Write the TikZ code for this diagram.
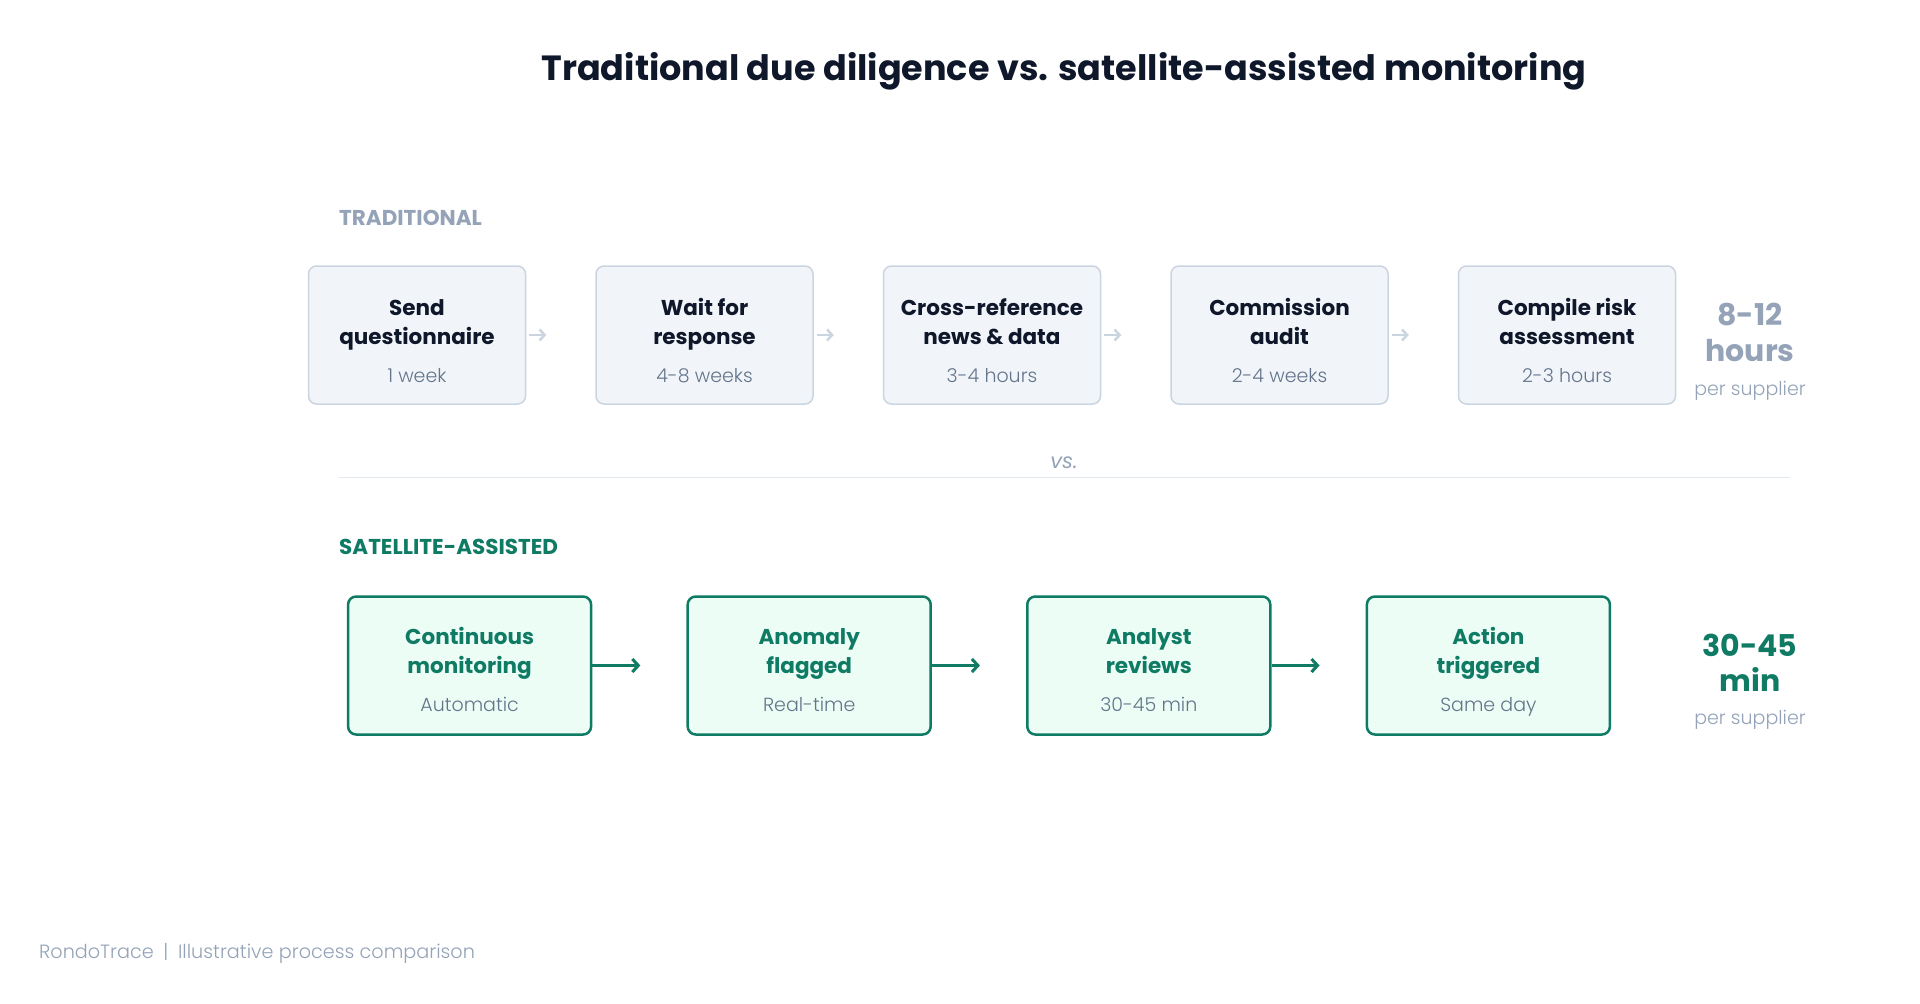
\documentclass[tikz,border=0pt]{standalone}
\usepackage{fontspec}
\setmainfont{Poppins}
\newfontfamily\lightfont{Poppins Light}
\usetikzlibrary{arrows.meta}
\definecolor{ink}{HTML}{0F172A}
\definecolor{slate}{HTML}{94A3B8}
\definecolor{muted}{HTML}{64748B}
\definecolor{edge}{HTML}{CBD5E1}
\definecolor{panel}{HTML}{F1F5F9}
\definecolor{hairline}{HTML}{E2E8F0}
\definecolor{satgreen}{HTML}{0F7B64}
\definecolor{mint}{HTML}{ECFDF5}
\begin{document}
\begin{tikzpicture}[x=1pt,y=-1pt,
  tbox/.style={draw=edge,fill=panel,line width=1.5pt,rounded corners=8pt,minimum width=217pt,minimum height=138pt},
  sbox/.style={draw=satgreen,fill=mint,line width=2.5pt,rounded corners=8pt,minimum width=243pt,minimum height=138pt},
  steptitle/.style={font=\fontsize{21.5}{29}\selectfont\bfseries,align=center,anchor=base},
  steptime/.style={font=\lightfont\fontsize{19}{24}\selectfont,text=muted,anchor=base},
  tarrow/.style={draw=edge,line width=2.5pt,-{Straight Barb[length=5pt,width=11pt]}},
  sarrow/.style={draw=satgreen,line width=3pt,-{Straight Barb[length=6pt,width=13pt]}},
  total/.style={font=\fontsize{30}{35.5}\selectfont\bfseries,align=center},
  persup/.style={font=\lightfont\fontsize{19}{24}\selectfont,text=slate},
  section/.style={anchor=west,inner xsep=0pt,font=\fontsize{21.5}{26}\selectfont\bfseries}]
  \useasboundingbox[fill=white] (0,0) rectangle (1920,1004);

  \node[font=\fontsize{35}{42}\selectfont\bfseries,text=ink] (title) at (1064,71) {Traditional due diligence vs. satellite-assisted monitoring};

  % traditional row
  \node[section,text=slate] (tlabel) at (339,218) {TRADITIONAL};
  \foreach \n/\x/\a/\b/\c in {1/417/Send/questionnaire/1 week,
      2/704.5/Wait for/response/4-8 weeks,
      3/992/Cross-reference/news \& data/3-4 hours,
      4/1279.5/Commission/audit/2-4 weeks,
      5/1567/Compile risk/assessment/2-3 hours} {
    \node[tbox] (t\n) at (\x,335) {};
    \node[steptitle,text=ink] (t\n h) at (\x,344.2) {\a\\\b};
    \node[steptime] (t\n s) at (\x,382) {\c};
  }
  \foreach \n in {1,...,4}
    \draw[tarrow] ([xshift=3pt]t\n.east) -- ([xshift=20pt]t\n.east);
  \node[total,text=slate] (ttot) at (1750,332.5) {8-12\\hours};
  \node[persup] (tper) at (1750,390.7) {per supplier};

  % divider
  \draw[hairline,line width=1pt] (339,477.6) -- (1790,477.6);
  \node[font=\fontsize{21}{25}\selectfont\itshape,text=slate] (vs) at (1064,462.5) {vs.};

  % satellite row
  \node[section,text=satgreen] (slabel) at (339,547.4) {SATELLITE-ASSISTED};
  \foreach \n/\x/\a/\b/\c in {1/469.6/Continuous/monitoring/Automatic,
      2/809.2/Anomaly/flagged/Real-time,
      3/1148.8/Analyst/reviews/30-45 min,
      4/1488.4/Action/triggered/Same day} {
    \node[sbox] (s\n) at (\x,665.5) {};
    \node[steptitle,text=satgreen] (s\n h) at (\x,673.4) {\a\\\b};
    \node[steptime] (s\n s) at (\x,711) {\c};
  }
  \foreach \n in {1,...,3}
    \draw[sarrow] (s\n.east) -- ([xshift=48pt]s\n.east);
  \node[total,text=satgreen] (stot) at (1750,663) {30-45\\min};
  \node[persup] (sper) at (1750,720.1) {per supplier};

  \node[anchor=west,inner xsep=0pt,font=\lightfont\fontsize{19.2}{23}\selectfont,text=slate] (foot) at (39,953) {RondoTrace\enspace|\enspace Illustrative process comparison};
\end{tikzpicture}
\end{document}
